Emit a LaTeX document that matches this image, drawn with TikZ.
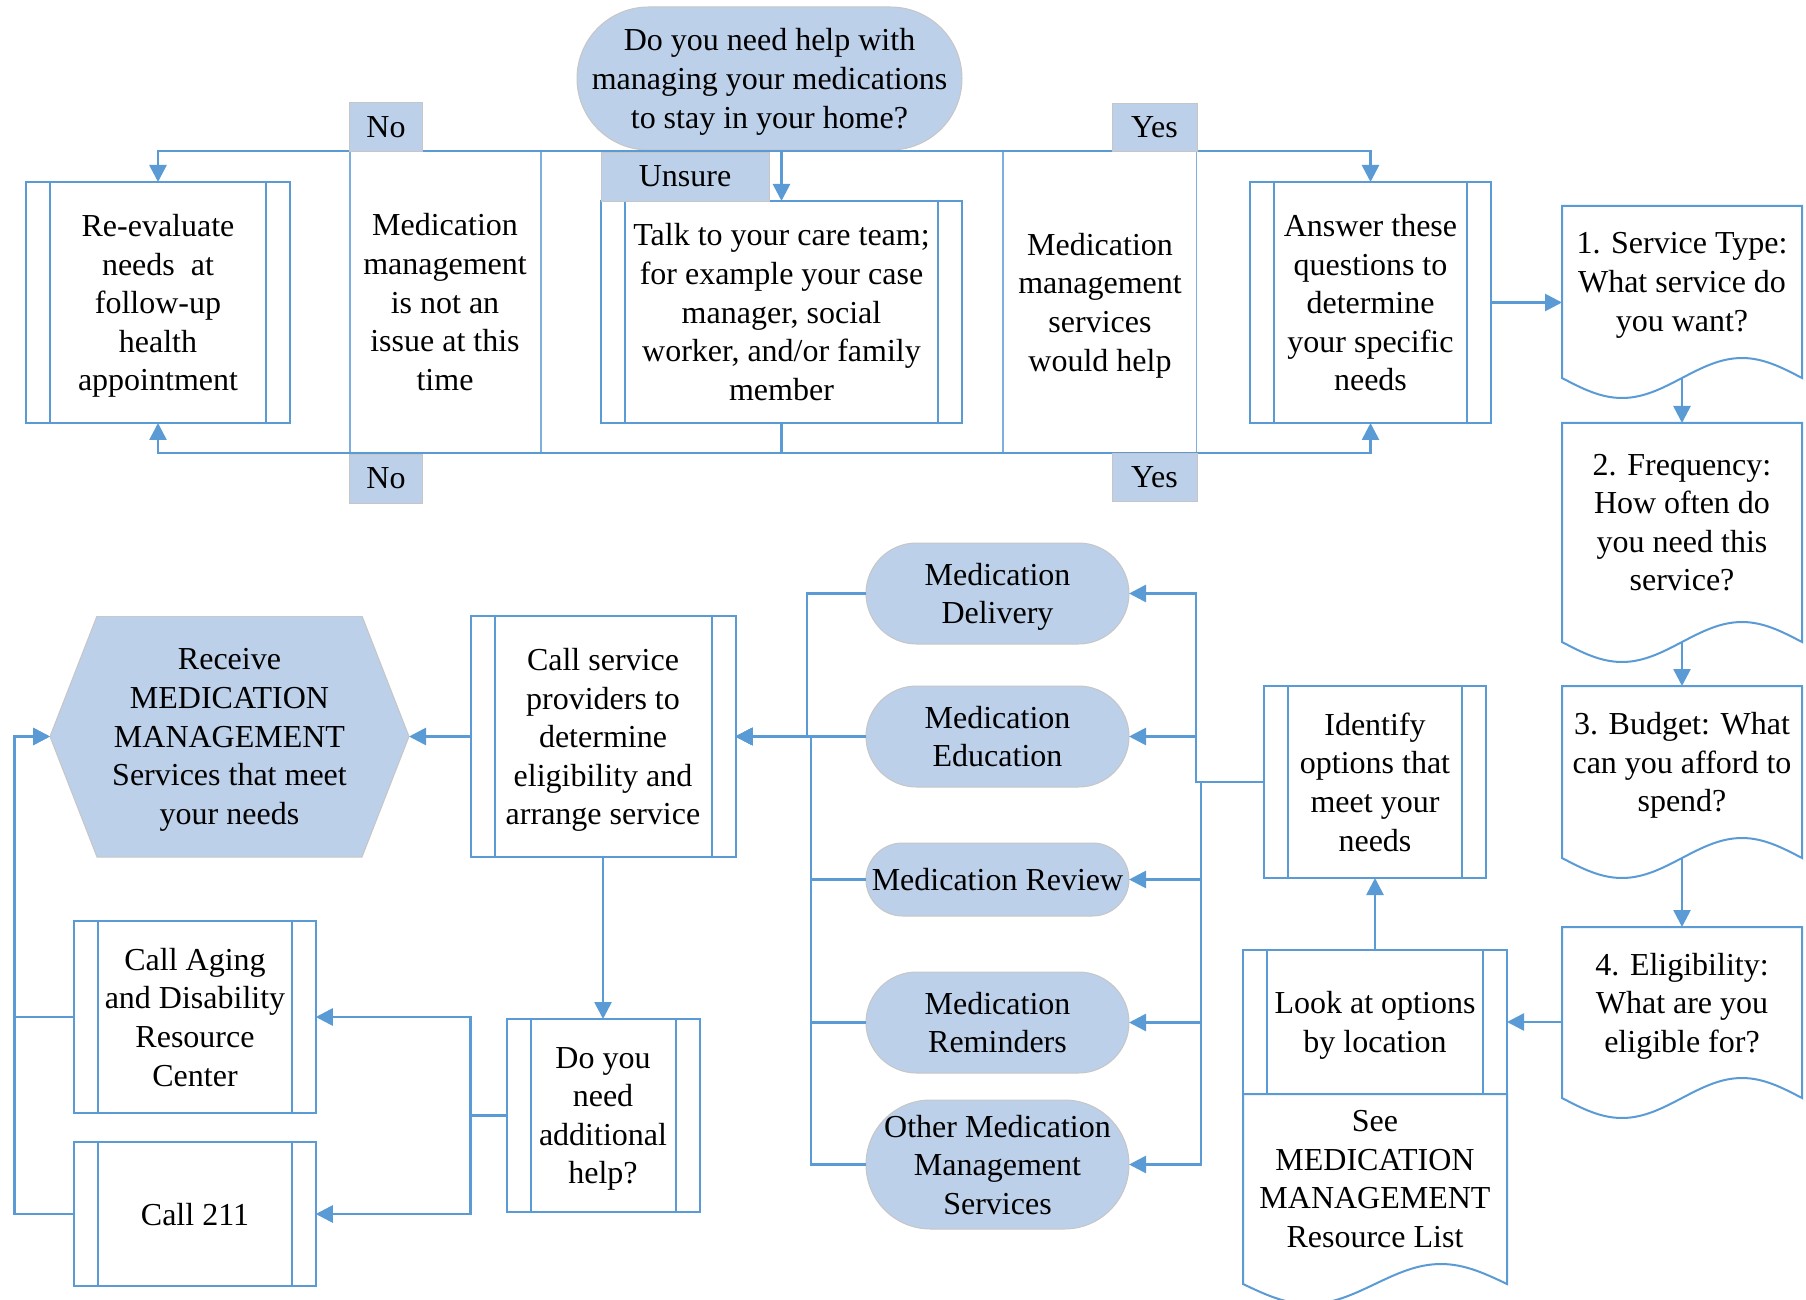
\documentclass[tikz,border=0pt]{standalone}
\usepackage{fontspec}
\setmainfont{Liberation Serif}
\usetikzlibrary{shapes.misc, arrows.meta}

\begin{document}
\begin{tikzpicture}[x=0.5pt, y=-0.5pt, font=\fontsize{16}{19.3}\selectfont,
    every node/.append style={text depth=0pt}]
    % Define page size (in pixels of the original chart)
    \def\pageW{1806}
    \def\pageH{1300}
    \def\waveA{20}

    \definecolor{lineColour}{HTML}{5B9BD5}
    \definecolor{fillColour}{HTML}{BCD0E9}
    \definecolor{edgeColour}{HTML}{C6C6C6}

    \tikzset{
        conn/.style={draw=lineColour, line width=1.35pt},
        arr/.style={conn, -{Triangle[length=8.5pt, width=8.5pt]}},
        lane/.style={draw=lineColour!80, line width=0.6pt},
        predef/.style={draw=lineColour, line width=1pt, fill=white, align=center, inner sep=1pt, outer sep=0pt,
            path picture={
                \draw[lineColour, line width=1pt]
                    ([xshift=12pt]path picture bounding box.north west) -- ([xshift=12pt]path picture bounding box.south west)
                    ([xshift=-12pt]path picture bounding box.north east) -- ([xshift=-12pt]path picture bounding box.south east);
            }},
        pill/.style={fill=fillColour, draw=edgeColour, line width=0.5pt, align=center, inner sep=1pt,
            outer sep=0pt, minimum width=131.5pt, minimum height=2*#1, rounded corners=#1},
        lbl/.style={fill=fillColour, draw=edgeColour, line width=0.4pt, inner sep=0pt, outer sep=0pt},
        doc/.style={align=center, inner sep=1pt, outer sep=0pt, minimum width=120pt},
        plain/.style={align=center, inner sep=1pt},
        hexa/.style={align=center, inner sep=1pt, outer sep=0pt, fill=white,
            minimum width=179.5pt, minimum height=120.5pt,
            path picture={
                \fill[fillColour, draw=edgeColour, line width=0.5pt]
                    (path picture bounding box.west)
                    -- ([xshift=23.5pt]path picture bounding box.north west)
                    -- ([xshift=-23.5pt]path picture bounding box.north east)
                    -- (path picture bounding box.east)
                    -- ([xshift=-23.5pt]path picture bounding box.south east)
                    -- ([xshift=23.5pt]path picture bounding box.south west) -- cycle;
            }},
        docline/.style={draw=lineColour, line width=1pt}
    }

    \useasboundingbox (0,0) rectangle (\pageW,\pageH);

    % Draw swimlane dividers
    \foreach \x in {350,541,1003,1196.5}
        \draw[lane] (\x,151) -- (\x,453);

    % Top row
    \node[fill=fillColour, draw=edgeColour, line width=0.5pt, rounded corners=35.75pt, align=center,
        minimum width=192.5pt, minimum height=71.5pt, inner sep=1pt, outer sep=0pt]
        (dec) at (769.5,78.5) {Do you need help with\\managing your medications\\to stay in your home?};
    \node[predef, minimum width=132pt, minimum height=120.5pt] (reeval) at (158,302.5)
        {Re-evaluate\\needs\ \ at\\follow-up\\health\\appointment};
    \node[plain] (notissue) at (445,302) {Medication\\management\\is not an\\issue at this\\time};
    \node[predef, minimum width=180.5pt, minimum height=111pt] (talk) at (781.5,312)
        {Talk to your care team;\\for example your case\\manager, social\\worker, and/or family\\member};
    \node[plain] (wouldhelp) at (1100,302) {Medication\\management\\services\\would help};
    \node[predef, minimum width=120.5pt, minimum height=120.5pt] (answer) at (1370.5,302.5)
        {Answer these\\questions to\\determine\\your specific\\needs};

    % Question documents on the right
    \node[doc, minimum height=76pt] (svc) at (1682,282) {1. Service Type:\\What service do\\you want?};
    \node[doc, minimum height=99.5pt] (freq) at (1682,522.5) {2. Frequency:\\How often do\\you need this\\service?};
    \node[doc, minimum height=76pt] (budget) at (1682,762) {3. Budget: What\\can you afford to\\spend?};
    \node[doc, minimum height=75.5pt] (elig) at (1682,1002.5) {4. Eligibility:\\What are you\\eligible for?};

    % Options and locations
    \node[predef, minimum width=111pt, minimum height=96pt] (identify) at (1375,782)
        {Identify\\options that\\meet your\\needs};
    \node[predef, minimum width=132pt, minimum height=72pt] (look) at (1375,1022) {Look at options\\by location};
    \node[doc, minimum width=132pt, minimum height=85pt] (seelist) at (1375,1179)
        {See\\MEDICATION\\MANAGEMENT\\Resource List};

    % Draw document outlines with wavy bottoms
    \foreach \d/\w in {svc/240, freq/240, budget/240, elig/240, seelist/264}
        \draw[docline] (\d.north west) -- (\d.south west) -- ++(0,\waveA)
            sin ++(\w/4,\waveA) cos ++(\w/4,-\waveA) sin ++(\w/4,-\waveA) cos ++(\w/4,\waveA)
            -- (\d.north east) -- cycle;

    % Service types
    \node[pill=25.25pt] (delivery) at (997.5,593.5) {Medication\\Delivery};
    \node[pill=25.25pt] (education) at (997.5,736.5) {Medication\\Education};
    \node[pill=18.25pt] (review) at (997.5,879.5) {Medication Review};
    \node[pill=25.25pt] (reminders) at (997.5,1022.5) {Medication\\Reminders};
    \node[pill=32.25pt] (other) at (997.5,1164.5) {Other Medication\\Management\\Services};

    % Left side
    \node[hexa] (recv) at (229.5,736.5)
        {Receive\\MEDICATION\\MANAGEMENT\\Services that meet\\your needs};
    \node[predef, minimum width=132.5pt, minimum height=120.5pt] (callsvc) at (603,736.5)
        {Call service\\providers to\\determine\\eligibility and\\arrange service};
    \node[predef, minimum width=96.5pt, minimum height=96.5pt] (doyou) at (603,1115.5)
        {Do you\\need\\additional\\help?};
    \node[predef, minimum width=120.75pt, minimum height=96pt] (aging) at (195,1017)
        {Call Aging\\and Disability\\Resource\\Center};
    \node[predef, minimum width=120.75pt, minimum height=72pt] (call211) at (195,1214) {Call 211};

    % Decision branches
    \coordinate (topbus) at (769.5,151);
    \coordinate (botbus) at (781.5,453);
    \draw[arr] (dec.south) -- (topbus) -| (reeval.north);
    \draw[arr] (topbus) -| (answer.north);
    \draw[arr] (topbus -| talk.north) -- (talk.north);
    \draw[arr] (talk.south) -- (botbus) -| (reeval.south);
    \draw[arr] (botbus) -| (answer.south);

    % Branch labels
    \node[lbl, minimum width=36.5pt, minimum height=24.5pt] (notop) at (386,127) {No};
    \node[lbl, minimum width=36.5pt, minimum height=24.5pt] (nobot) at (386,478.5) {No};
    \node[lbl, minimum width=42.5pt, minimum height=24pt] (yestop) at (1154.5,127) {Yes};
    \node[lbl, minimum width=42.5pt, minimum height=24pt] (yesbot) at (1154.5,477.5) {Yes};
    \node[lbl, minimum width=84pt, minimum height=24.5pt] (unsure) at (685,176.5) {Unsure};

    % Question chain
    \draw[arr] (answer.east) -- (answer.east -| svc.west);
    \draw[arr] ([yshift=-10pt]svc.south) -- (freq.north);
    \draw[arr] ([yshift=-10pt]freq.south) -- (budget.north);
    \draw[arr] ([yshift=-10pt]budget.south) -- (elig.north);
    \draw[arr] (elig.west |- look.east) -- (look.east);
    \draw[arr] (look.north) -- (identify.south);

    % Options to service types
    \draw[arr] (identify.west) -- ++(-68,0) |- (delivery.east);
    \draw[arr] (identify.west) -- ++(-68,0) |- (education.east);
    \foreach \s in {review, reminders, other}
        \draw[arr] (identify.west) -- ++(-63,0) |- (\s.east);

    % Service types to providers
    \draw[arr] (delivery.west) -- ++(-59,0) |- (callsvc.east);
    \draw[arr] (education.west) -- (callsvc.east);
    \foreach \s in {review, reminders, other}
        \draw[arr] (\s.west) -- ++(-55,0) |- (callsvc.east);

    % Providers and additional help
    \draw[arr] (callsvc.west) -- (recv.east);
    \draw[arr] (callsvc.south) -- (doyou.north);
    \draw[arr] (doyou.west) -- ++(-36,0) |- (aging.east);
    \draw[arr] (doyou.west) -- ++(-36,0) |- (call211.east);
    \draw[arr] (aging.west) -- ++(-60,0) |- (recv.west);
    \draw[arr] (call211.west) -- ++(-60,0) |- (recv.west);
\end{tikzpicture}
\end{document}
